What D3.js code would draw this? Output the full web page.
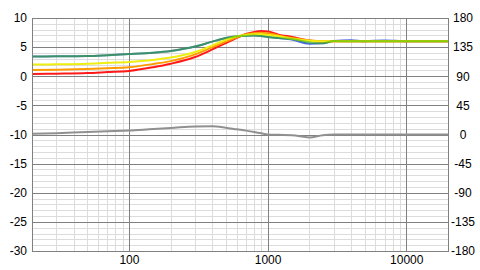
<!DOCTYPE html>
<html>
<head>
    <meta charset="utf-8">
    <script src="https://d3js.org/d3.v7.min.js"></script>
    <style>
        body {
            margin: 0;
            background-color: white;
        }

        .axis text {
            font: 12px "Liberation Sans", Arial, sans-serif;
            fill: black;
        }

        .axis path {
            display: none;
        }

        .curve {
            fill: none;
            stroke-width: 2px;
        }
    </style>
</head>
<body>
    <script>
        // frequency points (Hz) the curves are sampled at
        const freqs = [20, 30, 50, 70, 100, 150, 200, 300, 400, 500, 600, 700, 800, 900, 1000, 1200, 1500, 2000, 2500, 3000, 4000, 5000, 7000, 10000, 20000];

        // magnitude (dB, left axis)
        const redDb    = [0.4, 0.45, 0.55, 0.72, 0.9, 1.55, 2.15, 3.3, 4.6, 5.7, 6.6, 7.25, 7.6, 7.75, 7.7, 7.15, 6.75, 6.15, 6.0, 6.0, 6.0, 6.0, 6.0, 6.0, 6.0];
        const orangeDb = [1.08, 1.12, 1.25, 1.38, 1.55, 2.1, 2.6, 3.75, 5.0, 5.95, 6.7, 7.2, 7.4, 7.45, 7.4, 7.0, 6.55, 6.15, 6.0, 6.0, 6.0, 6.0, 6.0, 6.0, 6.0];
        const yellowDb = [2.0, 2.05, 2.15, 2.3, 2.45, 2.8, 3.2, 4.15, 5.3, 6.25, 6.85, 7.1, 7.2, 7.2, 7.1, 6.85, 6.45, 6.1, 6.0, 6.0, 6.0, 6.0, 6.0, 6.0, 6.0];
        const blueDb   = [3.4, 3.42, 3.48, 3.62, 3.8, 4.05, 4.35, 5.1, 5.95, 6.55, 6.85, 6.97, 7.0, 6.9, 6.75, 6.55, 6.3, 5.6, 5.65, 6.05, 6.2, 6.0, 6.15, 6.0, 6.0];
        const greenDb  = [3.4, 3.42, 3.48, 3.62, 3.8, 4.05, 4.35, 5.1, 5.95, 6.55, 6.85, 6.97, 7.0, 6.9, 6.75, 6.55, 6.4, 5.8, 5.65, 6.05, 6.0, 6.0, 6.0, 6.0, 6.0];

        // phase (degrees, right axis)
        const phaseDeg = [1, 2, 4, 5, 6, 8.5, 10, 12.5, 12.7, 10.5, 8, 6, 4, 2, 0, -0.5, -1, -4.5, -1, 0, 0, 0, 0, 0, 0];

        const leftTicks = [10, 5, 0, -5, -10, -15, -20, -25, -30];
        const rightTicks = [180, 135, 90, 45, 0, -45, -90, -135, -180];
        const freqTicks = [100, 1000, 10000];

        const series = [
            { name: 'blue', color: '#4a64e6', values: blueDb, opacity: 1 },
            { name: 'red', color: '#ff1a1a', values: redDb, opacity: 1 },
            { name: 'orange', color: '#ff9a00', values: orangeDb, opacity: 1 },
            { name: 'yellow', color: '#eeee10', values: yellowDb, opacity: 1 },
            { name: 'green', color: '#30b800', values: greenDb, opacity: 0.55 }
        ];

        const width = 480;
        const height = 270;
        const margin = { top: 18, right: 32, bottom: 19, left: 32 };

        const svg = d3.select('body').append('svg')
            .attr('width', width)
            .attr('height', height);

        const x = d3.scaleLog()
            .domain([20, 20000])
            .range([margin.left, width - margin.right]);

        const y = d3.scaleLinear()
            .domain([-30, 10])
            .range([height - margin.bottom, margin.top]);

        const yPhase = d3.scaleLinear()
            .domain([-180, 180])
            .range([height - margin.bottom, margin.top]);

        // grid lines
        const minorFreqs = [];
        for (let dec = 10; dec <= 10000; dec *= 10) {
            for (let m = 2; m <= 9; m++) {
                const f = dec * m;
                if (f > 20 && f < 20000) minorFreqs.push(f);
            }
        }
        const minorDb = d3.range(-29, 10, 1).filter(v => v % 5 !== 0);
        const majorDb = d3.range(-25, 10, 5);

        const grid = svg.append('g').attr('class', 'grid');

        grid.selectAll('.vminor')
            .data(minorFreqs)
            .enter().append('line')
            .attr('x1', d => Math.round(x(d)) + 0.5)
            .attr('x2', d => Math.round(x(d)) + 0.5)
            .attr('y1', margin.top)
            .attr('y2', height - margin.bottom)
            .attr('stroke', '#dcdcdc');

        grid.selectAll('.hminor')
            .data(minorDb)
            .enter().append('line')
            .attr('x1', margin.left)
            .attr('x2', width - margin.right)
            .attr('y1', d => Math.round(y(d)) + 0.5)
            .attr('y2', d => Math.round(y(d)) + 0.5)
            .attr('stroke', '#dcdcdc');

        grid.selectAll('.hmajor')
            .data(majorDb)
            .enter().append('line')
            .attr('x1', margin.left)
            .attr('x2', width - margin.right)
            .attr('y1', d => Math.round(y(d)) + 0.5)
            .attr('y2', d => Math.round(y(d)) + 0.5)
            .attr('stroke', '#808080');

        grid.selectAll('.vmajor')
            .data(freqTicks)
            .enter().append('line')
            .attr('x1', d => Math.round(x(d)) + 0.5)
            .attr('x2', d => Math.round(x(d)) + 0.5)
            .attr('y1', margin.top)
            .attr('y2', height - margin.bottom)
            .attr('stroke', '#808080');

        // curves
        const line = d3.line()
            .x((d, i) => x(freqs[i]))
            .curve(d3.curveMonotoneX);

        svg.append('path')
            .attr('class', 'curve')
            .attr('d', line.y(d => yPhase(d))(phaseDeg))
            .attr('stroke', '#909090')
            .attr('stroke-width', 1.2);

        svg.append('g')
            .selectAll('path')
            .data(series)
            .enter().append('path')
            .attr('class', 'curve')
            .attr('stroke', d => d.color)
            .attr('stroke-opacity', d => d.opacity)
            .attr('d', d => line.y(v => y(v))(d.values));

        // frame
        svg.append('rect')
            .attr('x', margin.left + 0.5)
            .attr('y', margin.top + 0.5)
            .attr('width', width - margin.left - margin.right)
            .attr('height', height - margin.top - margin.bottom)
            .attr('fill', 'none')
            .attr('stroke', '#808080');

        // axes
        const plain = d => String(d);

        svg.append('g')
            .attr('class', 'axis')
            .attr('transform', `translate(${margin.left},0)`)
            .call(d3.axisLeft(y).tickValues(leftTicks).tickFormat(plain).tickSize(0).tickPadding(5));

        svg.append('g')
            .attr('class', 'axis')
            .attr('transform', `translate(${width - margin.right},0)`)
            .call(d3.axisRight(yPhase).tickValues(rightTicks).tickFormat(plain).tickSize(0))
            .selectAll('text')
            .attr('x', 15)
            .attr('text-anchor', 'middle');

        svg.append('g')
            .attr('class', 'axis')
            .attr('transform', `translate(0,${height - margin.bottom})`)
            .call(d3.axisBottom(x).tickValues(freqTicks).tickFormat(plain).tickSize(0).tickPadding(4));
    </script>
</body>
</html>
